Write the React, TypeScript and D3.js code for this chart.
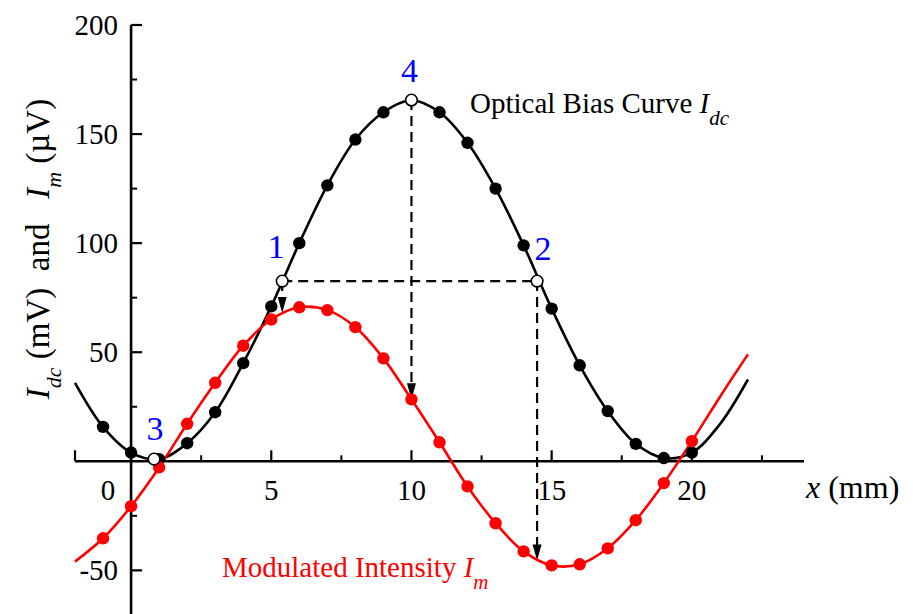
import React from "react";
import * as d3 from "d3";

// Measured positions along the sample (mm)
const positionsMm = [-1, 0, 1, 2, 3, 4, 5, 6, 7, 8, 9, 10, 11, 12, 13, 14, 15, 16, 17, 18, 19, 20];
// Optical bias curve I_dc (mV)
const biasCurve = [15.8, 4, 1, 8.3, 22.5, 45, 71, 100, 126.5, 147.5, 160, 165.5, 160, 146, 125, 99, 70, 44, 23, 8, 1.5, 4];
// Modulated intensity I_m (µV)
const modulated = [-35.3, -20.6, -2.8, 17.2, 36, 53, 65, 70.6, 69.3, 61.5, 47.2, 28.4, 8.7, -11.5, -28.4, -41.3, -47.7, -47.2, -39.9, -27, -10, 9.2];

// Extra points of the fitted curves beyond the measured range
const fitExtraX = [-2, 21, 22];
const biasFitExtra = [36, 17, 37.5];
const modFitExtra = [-46, 29.5, 49];

// Marked operating points on the bias curve
const pointLabels = ["1", "2", "3", "4"];
const pointX = [5.39, 14.48, 0.82, 10];
const pointY = [82.6, 82.6, 1, 165.6];

// Where the projected arrows meet the modulated-intensity curve
const arrowX = [5.39, 10, 14.48];
const arrowFromY = [82.6, 165.6, 82.6];
const arrowToY = [68, 28.4, -45.5];

const xMajorTicks = [0, 5, 10, 15, 20];
const xMinorTicks = [2.5, 7.5, 12.5, 17.5, 22.5];
const yMajorTicks = [-50, 50, 100, 150, 200];
const yMinorTicks = [-25, 25, 75, 125, 175];

const FONT = "'Liberation Serif', 'Times New Roman', serif";

export default function App() {
  const width = 913;
  const height = 614;

  const x = d3.scaleLinear().domain([-2, 24]).range([75, 804]);
  const y = d3.scaleLinear().domain([-70, 200]).range([614, 25]);

  const mkSeries = (vals: number[], extra: number[]) => {
    const pts: [number, number][] = positionsMm.map((p, i) => [p, vals[i]]);
    fitExtraX.forEach((p, i) => pts.push([p, extra[i]]));
    pts.sort((a, b) => a[0] - b[0]);
    return pts;
  };

  const line = d3
    .line<[number, number]>()
    .x((d) => x(d[0]))
    .y((d) => y(d[1]))
    .curve(d3.curveCatmullRom.alpha(0.5));

  const biasPath = line(mkSeries(biasCurve, biasFitExtra)) || "";
  const modPath = line(mkSeries(modulated, modFitExtra)) || "";

  const x0 = x(0);
  const yz = y(0);

  // label placement (dx, baseline dy) around each marked point
  const labelOffsets: [number, number][] = [
    [-6, -23],
    [6, -21],
    [1, -19],
    [-2, -18],
  ];

  return (
    <svg
      width={width}
      height={height}
      style={{ position: "absolute", left: 0, top: 0, background: "#fff" }}
      fontFamily={FONT}
    >
      {/* axes */}
      <line x1={x0} x2={x0} y1={y(200)} y2={y(-70)} stroke="#000" strokeWidth={2.6} />
      <line x1={x(-2)} x2={x(24)} y1={yz} y2={yz} stroke="#000" strokeWidth={2.6} />
      <line x1={x(-2)} x2={x(-2)} y1={yz} y2={yz - 11} stroke="#000" strokeWidth={2.2} />

      {yMajorTicks.map((t) => (
        <g key={"ym" + t}>
          <line x1={x0} x2={x0 + 11} y1={y(t)} y2={y(t)} stroke="#000" strokeWidth={2.2} />
          <text x={x0 - 13} y={y(t) + 10} textAnchor="end" fontSize={29}>
            {t}
          </text>
        </g>
      ))}
      {yMinorTicks.map((t) => (
        <line key={"yn" + t} x1={x0} x2={x0 + 6} y1={y(t)} y2={y(t)} stroke="#000" strokeWidth={2} />
      ))}
      {xMajorTicks.map((t) => (
        <g key={"xm" + t}>
          <line x1={x(t)} x2={x(t)} y1={yz} y2={yz - 11} stroke="#000" strokeWidth={2.2} />
          <text x={x(t) + (t === 0 ? -23 : 0)} y={yz + 39} textAnchor="middle" fontSize={29}>
            {t}
          </text>
        </g>
      ))}
      {xMinorTicks.map((t) => (
        <line key={"xn" + t} x1={x(t)} x2={x(t)} y1={yz} y2={yz - 6} stroke="#000" strokeWidth={2} />
      ))}

      {/* axis titles */}
      <text x={806} y={yz + 37} fontSize={32} style={{ whiteSpace: "pre" }}>
        <tspan fontStyle="italic">x</tspan>
        <tspan>{" (mm)"}</tspan>
      </text>
      <text
        transform="translate(49,249) rotate(-90)"
        textAnchor="middle"
        fontSize={33}
        style={{ whiteSpace: "pre" }}
      >
        <tspan fontStyle="italic">I</tspan>
        <tspan fontStyle="italic" fontSize={22} dy={12}>
          {"dc"}
        </tspan>
        <tspan dy={-12}>{" (mV)  and   "}</tspan>
        <tspan fontStyle="italic">I</tspan>
        <tspan fontStyle="italic" fontSize={22} dy={12}>
          {"m"}
        </tspan>
        <tspan dy={-12}>{" (\u00b5V)"}</tspan>
      </text>

      {/* guide lines */}
      <line
        x1={x(pointX[0])}
        x2={x(pointX[1])}
        y1={y(pointY[0])}
        y2={y(pointY[1])}
        stroke="#000"
        strokeWidth={2.2}
        strokeDasharray="10,6"
      />
      {arrowX.map((ax, i) => {
        const px = x(ax);
        const tip = y(arrowToY[i]);
        return (
          <g key={"ar" + i}>
            <line
              x1={px}
              x2={px}
              y1={y(arrowFromY[i])}
              y2={tip - 12}
              stroke="#000"
              strokeWidth={2.2}
              strokeDasharray="10,6"
            />
            <path d={`M${px - 4.5},${tip - 16} L${px + 4.5},${tip - 16} L${px},${tip} Z`} fill="#000" />
          </g>
        );
      })}

      {/* curves */}
      <path d={biasPath} fill="none" stroke="#000" strokeWidth={2.6} />
      <path d={modPath} fill="none" stroke="#ff0000" strokeWidth={2.6} />

      {positionsMm.map((p, i) => (
        <circle key={"b" + i} cx={x(p)} cy={y(biasCurve[i])} r={6.2} fill="#000" />
      ))}
      {positionsMm.map((p, i) => (
        <circle key={"r" + i} cx={x(p)} cy={y(modulated[i])} r={6.2} fill="#ff0000" />
      ))}

      {pointX.map((px, i) => (
        <g key={"op" + i}>
          <circle cx={x(px)} cy={y(pointY[i])} r={5.8} fill="#fff" stroke="#000" strokeWidth={1.6} />
          <text
            x={x(px) + labelOffsets[i][0]}
            y={y(pointY[i]) + labelOffsets[i][1]}
            textAnchor="middle"
            fontSize={34}
            fill="#0000ff"
          >
            {pointLabels[i]}
          </text>
        </g>
      ))}

      {/* curve labels */}
      <text x={470} y={113} fontSize={29} style={{ whiteSpace: "pre" }}>
        <tspan>{"Optical Bias Curve "}</tspan>
        <tspan fontStyle="italic">I</tspan>
        <tspan fontStyle="italic" fontSize={21} dy={12}>
          {"dc"}
        </tspan>
      </text>
      <text x={222} y={577} fontSize={29} fill="#ff0000" style={{ whiteSpace: "pre" }}>
        <tspan>{"Modulated Intensity "}</tspan>
        <tspan fontStyle="italic">I</tspan>
        <tspan fontStyle="italic" fontSize={21} dy={12}>
          {"m"}
        </tspan>
      </text>
    </svg>
  );
}
